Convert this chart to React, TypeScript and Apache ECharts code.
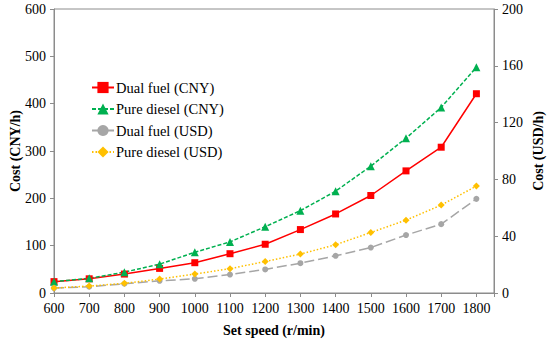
import React, { useEffect, useRef } from "react";
import * as echarts from "echarts";

const speeds = [600, 700, 800, 900, 1000, 1100, 1200, 1300, 1400, 1500, 1600, 1700, 1800];
const dualFuelCNY = [24, 30, 40, 52, 64, 83, 103, 134, 167, 206, 258, 308, 421];
const pureDieselCNY = [24, 31, 44, 61, 86, 108, 140, 174, 215, 268, 327, 392, 477];
const dualFuelUSD = [3.5, 4.4, 6.5, 8.6, 10, 13, 16.6, 21, 26.2, 32, 40.8, 48.5, 66.3];
const pureDieselUSD = [3.5, 4.9, 6.8, 9.8, 13.4, 17.1, 22.2, 27.4, 34, 42.6, 51.3, 61.9, 75.3];

const seriesNames = ["Dual fuel (CNY)", "Pure diesel (CNY)", "Dual fuel (USD)", "Pure diesel (USD)"];

const FONT = "Liberation Serif";
const AXIS_COLOR = "#8c8c8c";

export default function App() {
  const ref = useRef<HTMLDivElement>(null);
  useEffect(() => {
    if (!ref.current) return;
    const chart = echarts.init(ref.current, undefined, { renderer: "svg" });
    const pair = (arr: number[]) => speeds.map((s, i) => [s, arr[i]]);
    const labelStyle = { fontFamily: FONT, fontSize: 14, color: "#000" };
    const nameStyle = { fontFamily: FONT, fontSize: 14, fontWeight: "bold", color: "#000" };
    chart.setOption({
      animation: false,
      textStyle: { fontFamily: FONT },
      grid: {
        left: 54, right: 56, top: 9, bottom: 46,
        outerBoundsMode: "none", containLabel: false,
        show: true, borderColor: AXIS_COLOR, borderWidth: 1,
      },
      legend: {
        orient: "vertical",
        left: 91, top: 80, padding: 0,
        itemWidth: 22, itemHeight: 14, itemGap: 6.5,
        textStyle: { fontFamily: FONT, fontSize: 14.5, color: "#000", padding: [0, 0, 0, -3] },
        data: seriesNames,
      },
      xAxis: {
        type: "value",
        min: 600, max: 1850, interval: 100,
        name: "Set speed (r/min)",
        nameLocation: "middle", nameGap: 30, nameMoveOverlap: false,
        nameTextStyle: nameStyle,
        axisLine: { lineStyle: { color: AXIS_COLOR } },
        axisTick: { lineStyle: { color: AXIS_COLOR }, length: 4 },
        splitLine: { show: false },
        axisLabel: {
          ...labelStyle, margin: 8,
          formatter: (v: number) => (v % 100 === 0 && v <= 1800 ? String(v) : ""),
        },
      },
      yAxis: [
        {
          type: "value", min: 0, max: 600, interval: 100,
          name: "Cost (CNY/h)", nameLocation: "middle", nameGap: 32, nameMoveOverlap: false,
          nameTextStyle: nameStyle,
          axisLine: { show: true, lineStyle: { color: AXIS_COLOR } },
          axisTick: { show: true, lineStyle: { color: AXIS_COLOR }, length: 4 },
          splitLine: { show: false },
          axisLabel: { ...labelStyle, margin: 8 },
        },
        {
          type: "value", min: 0, max: 200, interval: 40, position: "right",
          name: "Cost (USD/h)", nameLocation: "middle", nameGap: 37, nameMoveOverlap: false,
          nameTextStyle: nameStyle,
          axisLine: { show: true, lineStyle: { color: AXIS_COLOR } },
          axisTick: { show: true, lineStyle: { color: AXIS_COLOR }, length: 4 },
          splitLine: { show: false },
          axisLabel: { ...labelStyle, margin: 8 },
        },
      ],
      series: [
        {
          name: seriesNames[0], type: "line", yAxisIndex: 0, data: pair(dualFuelCNY),
          symbol: "rect", symbolSize: 7,
          lineStyle: { color: "#ff0000", width: 1.5, type: "solid" },
          itemStyle: { color: "#ff0000" },
        },
        {
          name: seriesNames[1], type: "line", yAxisIndex: 0, data: pair(pureDieselCNY),
          symbol: "triangle", symbolSize: 8,
          lineStyle: { color: "#00b050", width: 1.5, type: [4, 2] },
          itemStyle: { color: "#00b050" },
        },
        {
          name: seriesNames[2], type: "line", yAxisIndex: 1, data: pair(dualFuelUSD),
          symbol: "circle", symbolSize: 6,
          lineStyle: { color: "#a6a6a6", width: 1.5, type: [10, 4] },
          itemStyle: { color: "#a6a6a6" },
        },
        {
          name: seriesNames[3], type: "line", yAxisIndex: 1, data: pair(pureDieselUSD),
          symbol: "diamond", symbolSize: 7,
          lineStyle: { color: "#ffc000", width: 1.5, type: [1.5, 2] },
          itemStyle: { color: "#ffc000" },
        },
      ],
    });
    return () => chart.dispose();
  }, []);
  return <div ref={ref} style={{ width: 550, height: 339, position: "absolute", left: 0, top: 0 }} />;
}
